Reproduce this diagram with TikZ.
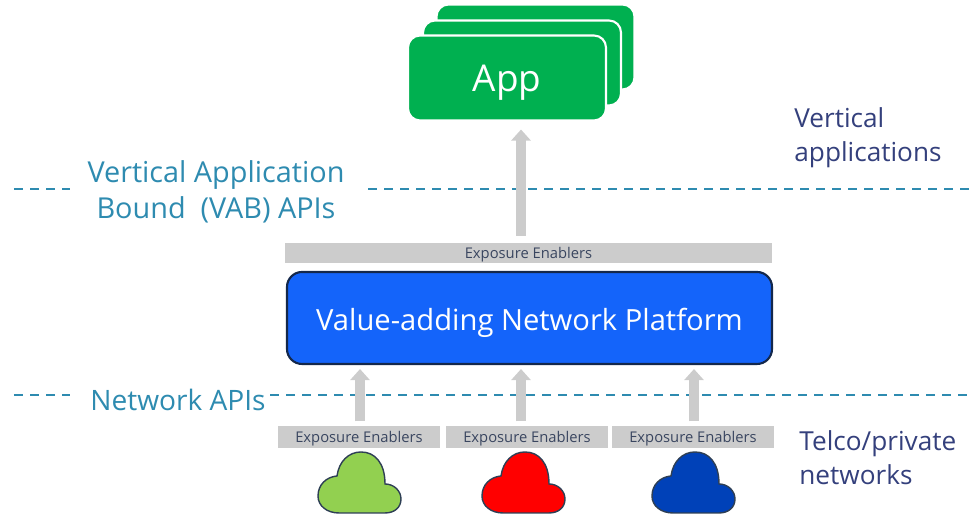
\documentclass[tikz,border=0pt]{standalone}
\usepackage{fontspec}
\setmainfont{Open Sans}
\usetikzlibrary{arrows.meta}
\definecolor{appgreen}{HTML}{00B050}
\definecolor{platblue}{HTML}{1464FA}
\definecolor{platedge}{HTML}{14284B}
\definecolor{apiteal}{HTML}{2E8BB0}
\definecolor{sidenavy}{HTML}{34407C}
\definecolor{barinkc}{HTML}{3A4660}
\definecolor{bargray}{HTML}{CCCCCC}
\definecolor{cloudedge}{HTML}{2E3F55}
\definecolor{cloudgreen}{HTML}{92D050}
\definecolor{cloudblue}{HTML}{0041B8}
\tikzset{
    appcard/.style={draw=white, line width=0.6pt, fill=appgreen, rounded corners=0.12cm, minimum width=1.98cm, minimum height=0.85cm, inner sep=0},
    enablerbar/.style={fill=bargray, text=barinkc, minimum height=0.22cm, inner sep=0, text height=0.15cm, font=\fontsize{4.2}{4.4}\selectfont},
    apilabel/.style={text=apiteal, align=center, font=\fontsize{8.2}{10.2}\selectfont},
    sidelabel/.style={text=sidenavy, align=left, anchor=west, font=\fontsize{7.45}{9.7}\selectfont},
    apiline/.style={apiteal, line width=0.4pt, dash pattern=on 0.09cm off 0.07cm},
    upflow/.style={bargray, line width=0.1cm, -{Triangle[length=0.11cm,width=0.19cm]}},
    netcloud/.pic={
        \draw [cloudedge, line width=0.4pt, fill=#1] (-0.24,0.37) .. controls (-0.22,0.52) and (-0.12,0.61) .. (0,0.61) .. controls (0.14,0.61) and (0.24,0.5) .. (0.24,0.29) .. controls (0.33,0.29) and (0.40,0.22) .. (0.40,0.14) .. controls (0.40,0.06) and (0.34,0) .. (0.24,0) -- (-0.22,0) .. controls (-0.34,0) and (-0.43,0.07) .. (-0.43,0.17) .. controls (-0.43,0.28) and (-0.35,0.36) .. (-0.24,0.37) -- cycle;
    }
}
\begin{document}
\begin{tikzpicture}
    \useasboundingbox (0,0) rectangle (9.72,5.15);
    \coordinate (vabL) at (0.14,3.26);
    \coordinate (vabM) at (0.70,3.26);
    \coordinate (vabR) at (3.68,3.26);
    \coordinate (vabE) at (9.72,3.26);
    \coordinate (netL) at (0.14,1.20);
    \coordinate (netM) at (0.70,1.20);
    \coordinate (netR) at (2.70,1.20);
    \coordinate (netE) at (9.72,1.20);
    \draw [apiline] (vabL) -- (vabM);
    \draw [apiline] (vabR) -- (vabE);
    \draw [apiline] (netL) -- (netM);
    \draw [apiline] (netR) -- (netE);
    \node [appcard] (appC) at (5.355,4.68) {};
    \node [appcard] (appB) at (5.22,4.52) {};
    \node [appcard, text=white, text height=0.36cm, font=\fontsize{10.5}{12}\selectfont] (appA) at (5.07,4.37) {App};
    \node [enablerbar, minimum width=4.87cm, minimum height=0.2cm, text height=0.13cm] (enableT) at (5.285,2.615) {Exposure Enablers};
    \node [draw=platedge, line width=0.6pt, fill=platblue, rounded corners=0.15cm, minimum width=4.85cm, minimum height=0.92cm, text=white, text height=0.33cm, font=\fontsize{8.3}{10}\selectfont] (platform) at (5.295,1.97) {Value-adding Network Platform};
    \node [enablerbar, minimum width=1.62cm] (enableA) at (3.59,0.78) {Exposure Enablers};
    \node [enablerbar, minimum width=1.62cm] (enableB) at (5.27,0.78) {Exposure Enablers};
    \node [enablerbar, minimum width=1.62cm] (enableC) at (6.93,0.78) {Exposure Enablers};
    \coordinate (axisA) at (3.60,0);
    \coordinate (axisB) at (5.21,0);
    \coordinate (axisC) at (6.94,0);
    \draw [upflow] ([yshift=0.07cm]axisB |- enableT.north) -- ([yshift=-0.08cm]axisB |- appA.south);
    \draw [upflow] ([yshift=0.04cm]axisA |- enableA.north) -- ([yshift=-0.04cm]axisA |- platform.south);
    \draw [upflow] ([yshift=0.04cm]axisB |- enableB.north) -- ([yshift=-0.04cm]axisB |- platform.south);
    \draw [upflow] ([yshift=0.04cm]axisC |- enableC.north) -- ([yshift=-0.04cm]axisC |- platform.south);
    \pic at (3.61,0.02) {netcloud=cloudgreen};
    \pic at (5.25,0.02) {netcloud=red};
    \pic at (6.95,0.02) {netcloud=cloudblue};
    \node [apilabel] (vabLabel) at (2.16,3.235) {Vertical Application\\Bound\ \ (VAB) APIs};
    \node [apilabel, font=\fontsize{8}{10}\selectfont] (netLabel) at (1.78,1.15) {Network APIs};
    \node [sidelabel] (vertLabel) at (7.82,3.77) {Vertical\\applications};
    \node [sidelabel] (telcoLabel) at (7.87,0.57) {Telco/private\\networks};
\end{tikzpicture}
\end{document}
